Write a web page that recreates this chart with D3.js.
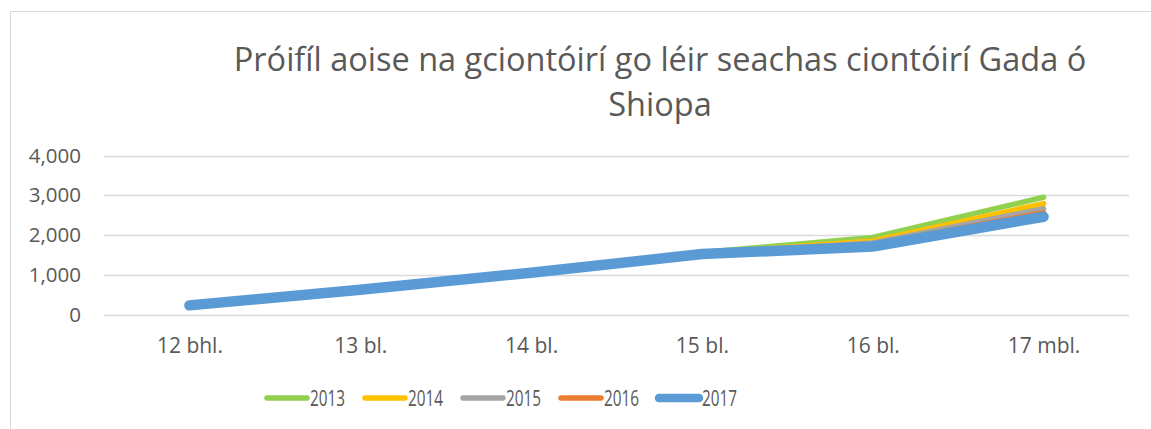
<!DOCTYPE html>
<html>
<head>
<meta charset="utf-8">
<script src="https://cdn.jsdelivr.net/npm/d3@7"></script>
<style>
  html, body { margin: 0; padding: 0; background: #fff; }
  svg { display: block; font-family: "Open Sans", sans-serif; }
</style>
</head>
<body>
<svg id="chart" width="1151" height="429"></svg>
<script>
const categories = ["12 bhl.", "13 bl.", "14 bl.", "15 bl.", "16 bl.", "17 mbl."];
const years = ["2013", "2014", "2015", "2016", "2017"];
const colors = ["#92d050", "#ffc000", "#a5a5a5", "#ed7d31", "#5b9bd5"];
const values2013 = [235, 630, 1060, 1560, 1940, 2950];
const values2014 = [232, 628, 1055, 1540, 1850, 2790];
const values2015 = [230, 626, 1052, 1530, 1800, 2660];
const values2016 = [230, 625, 1050, 1525, 1760, 2560];
const values2017 = [230, 625, 1050, 1520, 1710, 2460];
const yTicks = [0, 1000, 2000, 3000, 4000];
const titleLines = ["Próifíl aoise na gciontóirí go léir seachas ciontóirí Gada ó", "Shiopa"];

const seriesValues = [values2013, values2014, values2015, values2016, values2017];
const series = years.map((y, i) => ({ year: y, color: colors[i], values: seriesValues[i] }));

const svg = d3.select("#chart");
const textColor = "#595959";

// chart border
svg.append("rect")
  .attr("x", 10.5).attr("y", 11.5)
  .attr("width", 1200).attr("height", 500)
  .attr("fill", "none").attr("stroke", "#d9d9d9").attr("stroke-width", 1);

// title
const title = svg.append("text")
  .attr("text-anchor", "middle")
  .attr("fill", textColor)
  .attr("font-size", 32.5);
titleLines.forEach((t, i) => {
  title.append("tspan").attr("x", 660).attr("y", 71 + i * 45).text(t);
});

const x = d3.scalePoint().domain(categories).range([104, 1129]).padding(0.5);
const y = d3.scaleLinear().domain([0, 4000]).range([314.5, 155.5]);

// gridlines
svg.append("g").selectAll("line").data(yTicks).join("line")
  .attr("x1", 104).attr("x2", 1129)
  .attr("y1", d => Math.round(y(d)) + 0.5).attr("y2", d => Math.round(y(d)) + 0.5)
  .attr("stroke", "#d9d9d9").attr("stroke-width", 1.3);

// y axis labels
const yAxis = d3.axisLeft(y).tickValues(yTicks).tickSize(0).tickPadding(0)
  .tickFormat(d3.format(","));
const gy = svg.append("g").attr("transform", "translate(81,0)").call(yAxis);
gy.select(".domain").remove();
gy.selectAll("text").attr("fill", textColor).attr("font-size", 20.5)
  .attr("font-family", "Open Sans, sans-serif");

// x axis labels
const xAxis = d3.axisBottom(x).tickSize(0).tickPadding(0);
const gx = svg.append("g").attr("transform", "translate(0,0)").call(xAxis);
gx.select(".domain").remove();
gx.selectAll("text").attr("fill", textColor).attr("font-size", 21)
  .attr("font-family", "Open Sans, sans-serif")
  .attr("dy", null).attr("y", 353);

// lines
const line = d3.line().x((d, i) => x(categories[i])).y(d => y(d));
svg.append("g").selectAll("path").data(series).join("path")
  .attr("d", d => line(d.values))
  .attr("fill", "none")
  .attr("stroke", d => d.color)
  .attr("stroke-width", d => d.year === "2017" ? 10.5 : 5.5)
  .attr("stroke-linecap", "round")
  .attr("stroke-linejoin", "round");

// legend
const legend = svg.append("g");
const lg = legend.selectAll("g").data(series).join("g")
  .attr("transform", (d, i) => `translate(${267 + i * 98},398)`);
lg.append("line")
  .attr("x1", 0).attr("x2", 40).attr("y1", 0).attr("y2", 0)
  .attr("stroke", d => d.color)
  .attr("stroke-width", d => d.year === "2017" ? 8.5 : 5.5)
  .attr("stroke-linecap", "round");
lg.append("text")
  .attr("x", 43).attr("y", 8)
  .attr("fill", textColor).attr("font-size", 21)
  .attr("textLength", 35).attr("lengthAdjust", "spacingAndGlyphs")
  .text(d => d.year);
</script>
</body>
</html>
